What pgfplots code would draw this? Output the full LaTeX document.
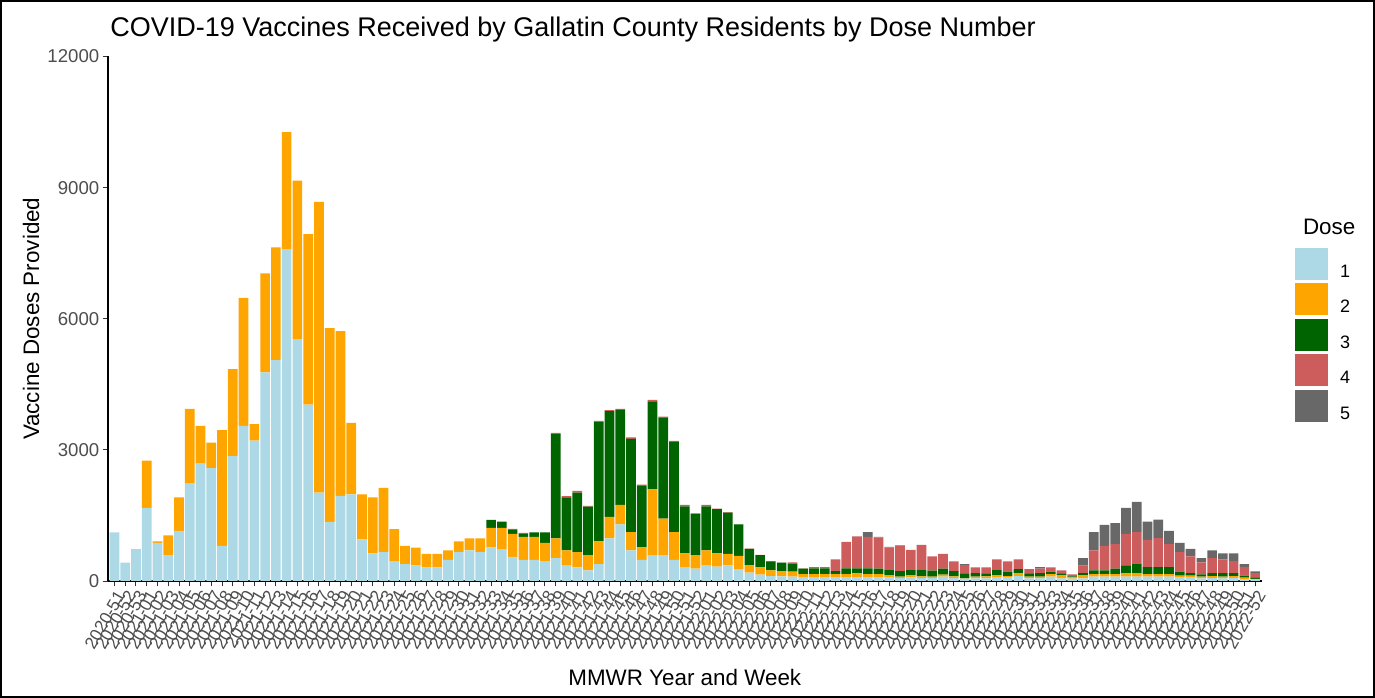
\documentclass[border=0pt]{standalone}
\usepackage{fontspec}
\setmainfont{Liberation Sans}
\usepackage{pgfplots}
\usepackage{pgfplotstable}
\pgfplotsset{compat=1.18}
\definecolor{dA}{HTML}{ADD8E6}
\definecolor{dB}{HTML}{FFA500}
\definecolor{dC}{HTML}{006400}
\definecolor{dD}{HTML}{CD5C5C}
\definecolor{dE}{HTML}{686868}
\definecolor{tickgray}{HTML}{4D4D4D}
\pgfplotstableread{
x d1 d2 d3 d4 d5
0 1115 0 0 0 0
1 420 0 0 0 0
2 730 0 0 0 0
3 1672 1081 0 0 0
4 873 32 0 0 0
5 593 449 0 0 0
6 1148 768 0 0 0
7 2227 1712 0 0 0
8 2684 867 0 0 0
9 2585 578 0 0 0
10 805 2646 0 0 0
11 2858 1992 0 0 0
12 3551 2926 0 0 0
13 3209 379 0 0 0
14 4774 2266 0 0 0
15 5056 2577 0 0 0
16 7594 2676 0 0 0
17 5534 3627 0 0 0
18 4036 3901 0 0 0
19 2023 6649 0 0 0
20 1353 4432 0 0 0
21 1946 3771 0 0 0
22 1984 1635 0 0 0
23 951 1033 0 0 0
24 631 1285 0 0 0
25 661 1467 0 0 0
26 456 730 0 0 0
27 388 417 0 0 0
28 355 410 0 0 0
29 312 311 0 0 0
30 312 311 0 0 0
31 486 214 0 0 0
32 661 244 0 0 0
33 700 273 0 0 0
34 661 312 0 0 0
35 768 448 182 0 0
36 730 486 145 0 0
37 554 525 91 23 0
38 486 525 68 21 0
39 486 525 99 0 0
40 456 417 237 0 0
41 524 449 2387 31 0
42 349 351 1216 23 0
43 312 349 1362 37 0
44 244 349 1110 15 0
45 388 517 2728 32 0
46 973 494 2417 23 0
47 1293 447 2176 23 0
48 700 418 2136 30 0
49 486 282 1406 31 0
50 593 1505 2014 31 0
51 593 836 2303 31 0
52 486 632 2067 23 0
53 319 312 1079 30 0
54 281 312 942 15 0
55 349 351 1010 30 0
56 330 301 1014 10 0
57 357 266 943 10 0
58 274 303 716 5 0
59 190 167 380 5 0
60 144 168 281 5 0
61 114 130 205 5 0
62 106 122 190 5 0
63 99 114 175 38 0
64 91 69 121 10 0
65 91 69 129 30 0
66 91 69 129 30 0
67 91 69 68 266 0
68 91 69 129 608 0
69 91 84 114 730 0
70 91 69 129 722 107
71 91 69 121 719 11
72 91 46 114 517 14
73 68 31 129 571 15
74 84 46 121 463 0
75 68 38 145 577 0
76 68 31 137 327 0
77 99 45 137 342 0
78 68 38 122 221 0
79 53 8 114 190 23
80 60 39 83 130 0
81 60 46 69 137 0
82 91 46 114 243 0
83 76 38 99 236 0
84 114 61 99 220 0
85 60 39 76 99 0
86 60 39 83 99 38
87 99 61 53 99 0
88 61 76 38 69 0
89 53 31 22 46 0
90 60 77 45 167 175
91 99 61 84 456 418
92 99 61 84 561 479
93 99 61 121 563 479
94 99 76 182 722 593
95 99 83 206 730 691
96 99 61 159 623 419
97 99 61 159 661 427
98 99 61 159 525 304
99 76 46 91 448 212
100 76 46 60 381 174
101 60 39 53 274 98
102 68 46 68 342 176
103 60 39 83 312 137
104 68 46 68 274 175
105 45 31 46 197 69
106 30 20 34 98 39
}\vaxdata
\begin{document}
\begin{tikzpicture}
\useasboundingbox (-54bp,-58.5bp) rectangle (633.5bp,290.5bp);
\begin{axis}[
  at={(0,0)}, anchor=south west,
  scale only axis, width=576.8bp, height=262.25bp,
  xmin=-0.6, xmax=106.6, ymin=0, ymax=12000,
  enlargelimits=false,
  scaled y ticks=false,
  ybar stacked, bar width=0.9,
  axis x line*=bottom, axis y line*=left,
  axis line style={-, black, line width=0.75bp},
  tick align=outside, major tick length=2.7bp,
  tick style={color=black!80, line width=0.5bp},
  xtick={0,...,106},
  xticklabels={2020-51,2020-52,2020-53,
    2021-01,2021-02,2021-03,2021-04,2021-05,2021-06,2021-07,2021-08,2021-09,2021-10,
    2021-11,2021-12,2021-13,2021-14,2021-15,2021-16,2021-17,2021-18,2021-19,2021-20,
    2021-21,2021-22,2021-23,2021-24,2021-25,2021-26,2021-27,2021-28,2021-29,2021-30,
    2021-31,2021-32,2021-33,2021-34,2021-35,2021-36,2021-37,2021-38,2021-39,2021-40,
    2021-41,2021-42,2021-43,2021-44,2021-45,2021-46,2021-47,2021-48,2021-49,2021-50,
    2021-51,2021-52,
    2022-01,2022-02,2022-03,2022-04,2022-05,2022-06,2022-07,2022-08,2022-09,2022-10,
    2022-11,2022-12,2022-13,2022-14,2022-15,2022-16,2022-17,2022-18,2022-19,2022-20,
    2022-21,2022-22,2022-23,2022-24,2022-25,2022-26,2022-27,2022-28,2022-29,2022-30,
    2022-31,2022-32,2022-33,2022-34,2022-35,2022-36,2022-37,2022-38,2022-39,2022-40,
    2022-41,2022-42,2022-43,2022-44,2022-45,2022-46,2022-47,2022-48,2022-49,2022-50,
    2022-51,2022-52},
  ytick={0,3000,6000,9000,12000},
  yticklabels={0,3000,6000,9000,12000},
  yticklabel style={text=tickgray, font=\fontsize{9.3bp}{10bp}\selectfont, inner sep=1.5bp},
  xticklabel style={text=tickgray, font=\fontsize{8.6bp}{9bp}\selectfont, rotate=60, anchor=north east, inner sep=1bp},
  title={COVID-19 Vaccines Received by Gallatin County Residents by Dose Number},
  every axis title/.style={at={(axis description cs:0.0017,1.038)}, anchor=base west, inner sep=0pt, font=\fontsize{13.5bp}{15bp}\selectfont},
  xlabel={MMWR Year and Week},
  every axis x label/.style={at={(axis description cs:0.5,-0.1983)}, anchor=base, font=\fontsize{11.2bp}{13bp}\selectfont},
  ylabel={Vaccine Doses Provided},
  every axis y label/.style={at={(axis description cs:-0.0667,0.5)}, rotate=90, anchor=center, font=\fontsize{11.2bp}{13bp}\selectfont},
  legend style={at={(1.029,0.635)}, anchor=north west, draw=none, fill=none, inner sep=0pt, outer sep=0pt,
    row sep=1.5bp, nodes={inner sep=0pt}, font=\fontsize{9bp}{10bp}\selectfont},
  legend cell align=left,
  legend image code/.code={\fill[#1] (0bp,-3.65bp) rectangle (16.5bp,12.35bp); \path (22.5bp,0bp);},
]
\addplot[fill=dA, draw=none] table[x=x, y=d1] {\vaxdata};
\addplot[fill=dB, draw=none] table[x=x, y=d2] {\vaxdata};
\addplot[fill=dC, draw=none] table[x=x, y=d3] {\vaxdata};
\addplot[fill=dD, draw=none] table[x=x, y=d4] {\vaxdata};
\addplot[fill=dE, draw=none] table[x=x, y=d5] {\vaxdata};
\legend{1,2,3,4,5}
\end{axis}
\node[anchor=base west, font=\fontsize{11.2bp}{13bp}\selectfont] at (594bp,173bp) {Dose};
\draw[black, line width=1.2bp] (-53.4bp,-57.9bp) rectangle (632.9bp,289.9bp);
\end{tikzpicture}
\end{document}
